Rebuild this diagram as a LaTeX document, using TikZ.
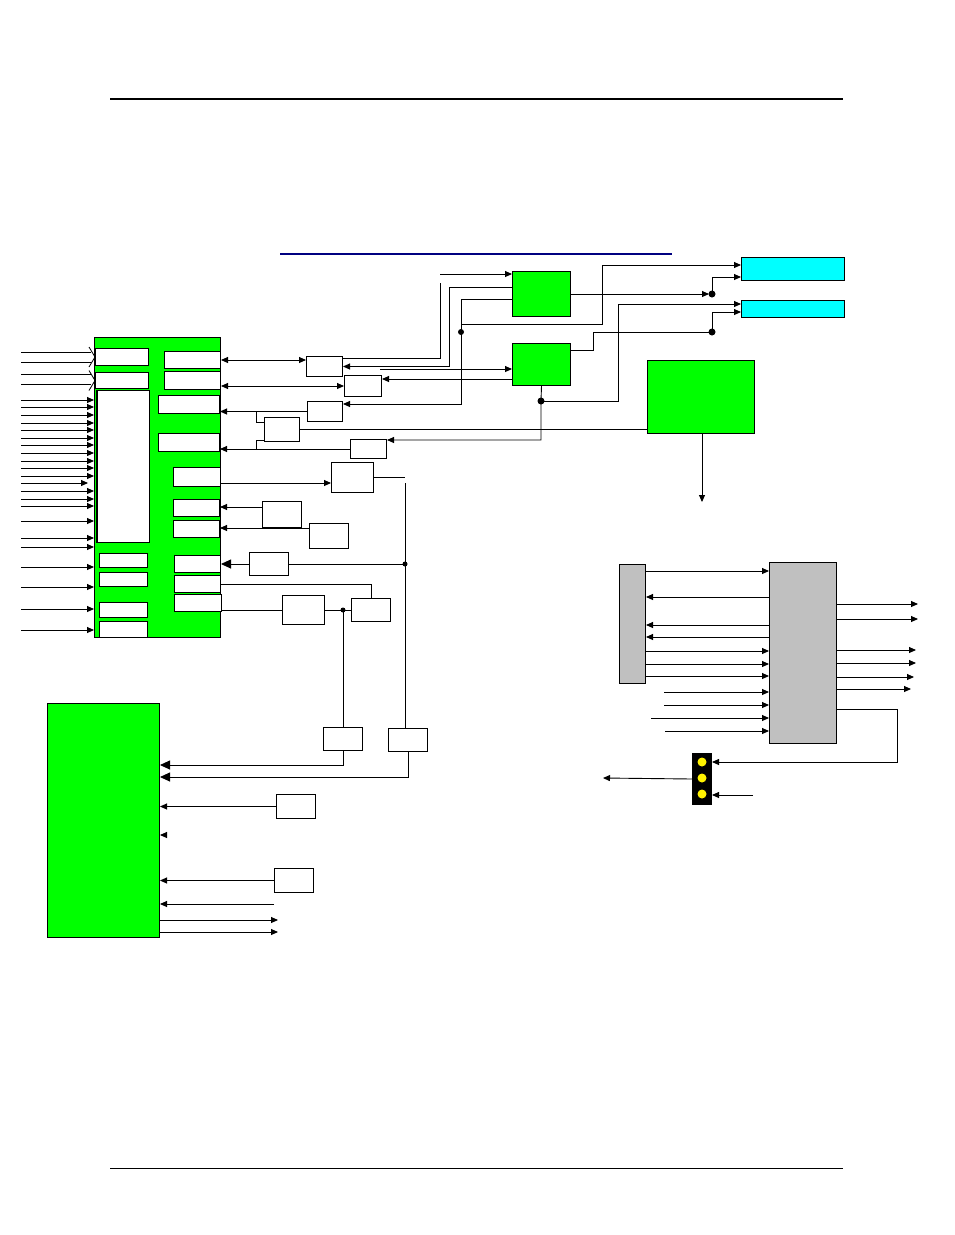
\documentclass[tikz,border=0pt]{standalone}
\usetikzlibrary{arrows.meta,calc}
\definecolor{lime}{RGB}{0,255,0}
\definecolor{aqua}{RGB}{0,255,255}
\definecolor{silver}{RGB}{192,192,192}
\definecolor{navy}{RGB}{0,0,128}

\begin{document}
\begin{tikzpicture}[
    x=1pt, y=-1pt, line width=0.9pt,
    >={Triangle[length=7pt,width=6pt]},
    big/.style ={-{Triangle[length=10pt,width=9pt]}},
    blk/.style ={draw, anchor=north west, inner sep=0pt, line width=1pt},
    wb/.style  ={blk, fill=white},
    gb/.style  ={blk, fill=lime},
    cb/.style  ={blk, fill=aqua},
    sb/.style  ={blk, fill=silver},
    lamp/.style={circle, fill=yellow, inner sep=0pt, minimum size=9pt},
  ]
  \useasboundingbox (0,0) rectangle (954,1235);

  % --- page rules ---
  \draw[line width=2.2pt] (110,99) -- (843,99);
  \draw[line width=1pt] (110,1168) -- (843,1168);
  \draw[navy, line width=2pt] (280,254) -- (672,254);

  % --- main block A ---
  \node[gb, minimum width=126pt, minimum height=300pt] (blkA) at (94,337) {};
  \node[wb, minimum width=53pt, minimum height=17pt]  (L1) at (95,348) {};
  \node[wb, minimum width=53pt, minimum height=16pt]  (L2) at (95,372) {};
  \node[wb, minimum width=52pt, minimum height=152pt] (Lt) at (97,390) {};
  \draw[line width=2pt] (Lt.north west) -- (Lt.south west);
  \node[wb, minimum width=48pt, minimum height=14pt]  (L3) at (99,553) {};
  \node[wb, minimum width=48pt, minimum height=14pt]  (L4) at (99,572) {};
  \node[wb, minimum width=48pt, minimum height=15pt]  (L5) at (99,602) {};
  \node[wb, minimum width=48pt, minimum height=16pt]  (L6) at (99,621) {};
  \node[wb, minimum width=56pt, minimum height=17pt]  (r1) at (164,351) {};
  \node[wb, minimum width=56pt, minimum height=18pt]  (r2) at (164,371) {};
  \node[wb, minimum width=61pt, minimum height=18pt]  (r3) at (158,395) {};
  \node[wb, minimum width=61pt, minimum height=18pt]  (r4) at (158,433) {};
  \node[wb, minimum width=47pt, minimum height=19pt]  (r5) at (173,467) {};
  \node[wb, minimum width=46pt, minimum height=17pt]  (r6) at (173,499) {};
  \node[wb, minimum width=46pt, minimum height=17pt]  (r7) at (173,520) {};
  \node[wb, minimum width=46pt, minimum height=17pt]  (r8) at (174,555) {};
  \node[wb, minimum width=46pt, minimum height=17pt]  (r9) at (174,575) {};
  \node[wb, minimum width=47pt, minimum height=17pt]  (r10) at (174,594) {};

  % --- small boxes ---
  \node[wb, minimum width=36pt, minimum height=20pt] (b1)  at (306,356) {};
  \node[wb, minimum width=37pt, minimum height=21pt] (b2)  at (344,375) {};
  \node[wb, minimum width=35pt, minimum height=20pt] (b3)  at (307,401) {};
  \node[wb, minimum width=35pt, minimum height=24pt] (b4)  at (264,417) {};
  \node[wb, minimum width=36pt, minimum height=19pt] (b5)  at (350,439) {};
  \node[wb, minimum width=42pt, minimum height=30pt] (b6)  at (331,462) {};
  \node[wb, minimum width=39pt, minimum height=26pt] (b7)  at (262,501) {};
  \node[wb, minimum width=39pt, minimum height=25pt] (b8)  at (309,523) {};
  \node[wb, minimum width=39pt, minimum height=23pt] (b9)  at (249,552) {};
  \node[wb, minimum width=42pt, minimum height=29pt] (b10) at (282,595) {};
  \node[wb, minimum width=39pt, minimum height=23pt] (b11) at (351,598) {};
  \node[wb, minimum width=39pt, minimum height=23pt] (b12) at (388,728) {};
  \node[wb, minimum width=39pt, minimum height=23pt] (b13) at (323,727) {};
  \node[wb, minimum width=39pt, minimum height=24pt] (b14) at (276,794) {};
  \node[wb, minimum width=39pt, minimum height=24pt] (b15) at (274,868) {};

  % --- upper right ---
  \node[gb, minimum width=58pt,  minimum height=45pt] (g1) at (512,271) {};
  \node[gb, minimum width=58pt,  minimum height=42pt] (g2) at (512,343) {};
  \node[gb, minimum width=107pt, minimum height=73pt] (g3) at (647,360) {};
  \node[cb, minimum width=103pt, minimum height=23pt] (c1) at (741,257) {};
  \node[cb, minimum width=103pt, minimum height=17pt] (c2) at (741,300) {};

  % --- lower blocks ---
  \node[gb, minimum width=112pt, minimum height=234pt] (blkD) at (47,703) {};
  \node[sb, minimum width=26pt,  minimum height=119pt] (P) at (619,564) {};
  \node[sb, minimum width=67pt,  minimum height=181pt] (Q) at (769,562) {};
  \node[blk, fill=black, minimum width=19pt, minimum height=51pt] (K) at (692,753) {};
  \node[lamp] (lp1) at (702,762) {};
  \node[lamp] (lp2) at (702,778) {};
  \node[lamp] (lp3) at (702,794) {};

  % --- inputs of block A ---
  \foreach \y in {352,362,374,384}{
    \coordinate (src) at (21,\y);
    \draw (src) -- ($(src -| blkA.west)+(-3,0)$);
  }
  \foreach \bx in {L1,L2}{
    \draw[line width=0.8pt] ($(\bx.west)+(-6,-10)$) -- (\bx.west) -- ($(\bx.west)+(-6,10)$);
  }
  \foreach \y in {400,407,415,423,430,438,445,453,461,468,476,491,499,506,521,538,547,567,587,609,630}{
    \coordinate (src) at (21,\y);
    \draw[->] (src) -- (src -| blkA.west);
  }
  \coordinate (src) at (21,483);
  \draw[->] (src) -- ($(src -| blkA.west)+(-6,0)$);

  % --- links of block A ---
  \draw[<->] (r1.east) -- (r1.east -| b1.west);
  \draw[<->] (b2.west) -- (b2.west -| r2.east);
  \draw[->] (b3.west) -- (b3.west -| r3.east);
  \draw[->] (b5.west) -- (b5.west -| r4.east);
  \coordinate (t1) at (256,411);
  \coordinate (t2) at (256,449);
  \draw ($(b4.north west)+(0,5)$) -| (t1);
  \draw ($(b4.south west)+(0,-2)$) -| (t2);
  \draw (b4.east) -- (b4.east -| g3.west);

  % --- green blocks 1 and 2 ---
  \coordinate (g1a) at (440,274);
  \draw[->] (g1a) -- (g1a -| g1.west);
  \coordinate (v1) at (440,283);
  \draw (v1) |- ($(b1.north east)+(0,2)$);
  \coordinate (j2) at (449,287);
  \draw[->] (j2 -| g1.west) -- (j2) |- (b1.east);
  \coordinate (j3) at (461,299);
  \draw[->] (j3 -| g1.west) -- (j3) |- ($(b3.north east)+(0,3)$);
  \coordinate (j4) at (461,324);
  \coordinate (k2) at (602,265);
  \draw[->] (j4) -| (k2) -- (k2 -| c1.west);
  \fill (461,332) circle (3pt);

  \coordinate (g2a) at (380,369);
  \draw[->] (g2a) -- (g2a -| g2.west);
  \coordinate (g2b) at (0,379);
  \draw[->] (g2b -| g2.west) -- (g2b -| b2.east);

  \coordinate (d1) at (712,294);
  \draw[->, shorten >=3pt] (d1 -| g1.east) -- (d1);
  \draw[->] (d1) |- ($(c1.north west)+(0,20)$);
  \fill (d1) circle (3.5pt);
  \coordinate (k3) at (593,350);
  \coordinate (d2) at (712,332);
  \draw (k3 -| g2.east) -- (k3) |- (d2);
  \draw[->] (d2) |- ($(c2.north west)+(0,12)$);
  \fill (d2) circle (3.5pt);

  \coordinate (dg2) at (541,401);
  \draw[->] (g2.south) -- (dg2) |- ($(b5.north east)+(0,1)$);
  \coordinate (k1) at (618,304);
  \draw[->] (dg2) -| (k1) -- (k1 -| c2.west);
  \fill (dg2) circle (3.5pt);

  \coordinate (g3o) at (702,502);
  \draw[->] (g3o |- g3.south) -- (g3o);

  % --- lower links of block A ---
  \coordinate (w5) at (0,483);
  \draw[->] (w5 -| r5.east) -- (w5 -| b6.west);
  \coordinate (v2) at (405,483);
  \draw (b6.east) -- (b6.east -| v2);
  \draw (v2) -- (v2 |- b12.north);
  \coordinate (w7) at ($(b7.north west)+(0,6)$);
  \draw[->] (w7) -- (w7 -| r6.east);
  \coordinate (w8) at ($(b8.north west)+(0,5)$);
  \draw[->] (w8) -- (w8 -| r7.east);
  \draw[big] (b9.west) -- (b9.west -| r8.east);
  \draw (b9.east) -- (b9.east -| v2);
  \fill (b9.east -| v2) circle (2.5pt);
  \draw (r9.east) -| (b11.north);
  \draw (b10.west -| r10.east) -- (b10.west);
  \draw (b10.east) -- (b11.west);
  \coordinate (d3) at (b13.north |- b10.east);
  \draw (d3) -- (b13.north);
  \fill (d3) circle (2.5pt);

  % --- block D ---
  \draw[big] (b13.south) |- ($(blkD.north east)+(0,62)$);
  \draw[big] (b12.south) |- ($(blkD.north east)+(0,74)$);
  \draw[->] (b14.west) -- (b14.west -| blkD.east);
  \coordinate (stub) at (165,835);
  \draw[->] (stub) -- (stub -| blkD.east);
  \draw[->] (b15.west) -- (b15.west -| blkD.east);
  \coordinate (d4) at (274,904);
  \draw[->] (d4) -- (d4 -| blkD.east);
  \foreach \y in {920,932}{
    \coordinate (d5) at (278,\y);
    \draw[->] (d5 -| blkD.east) -- (d5);
  }

  % --- gray blocks ---
  \foreach \y in {571,651,664,676}{
    \coordinate (pq) at (0,\y);
    \draw[->] (pq -| P.east) -- (pq -| Q.west);
  }
  \foreach \y in {597,625,637}{
    \coordinate (pq) at (0,\y);
    \draw[->] (pq -| Q.west) -- (pq -| P.east);
  }
  \foreach \x/\y in {664/692,664/705,651/718,665/731}{
    \coordinate (qi) at (\x,\y);
    \draw[->] (qi) -- (qi -| Q.west);
  }
  \foreach \x/\y in {918/604,918/619,916/650,916/663,914/677,911/689}{
    \coordinate (qe) at (\x,\y);
    \draw[->] (qe -| Q.east) -- (qe);
  }
  \coordinate (kq) at (897,709);
  \draw[->] (kq -| Q.east) -- (kq) |- ($(K.north east)+(0,9)$);
  \coordinate (kout) at (603,778);
  \draw[->] (K.west) -- (kout);
  \coordinate (kin) at (753,795);
  \draw[->] (kin) -- (kin -| K.east);
\end{tikzpicture}
\end{document}
